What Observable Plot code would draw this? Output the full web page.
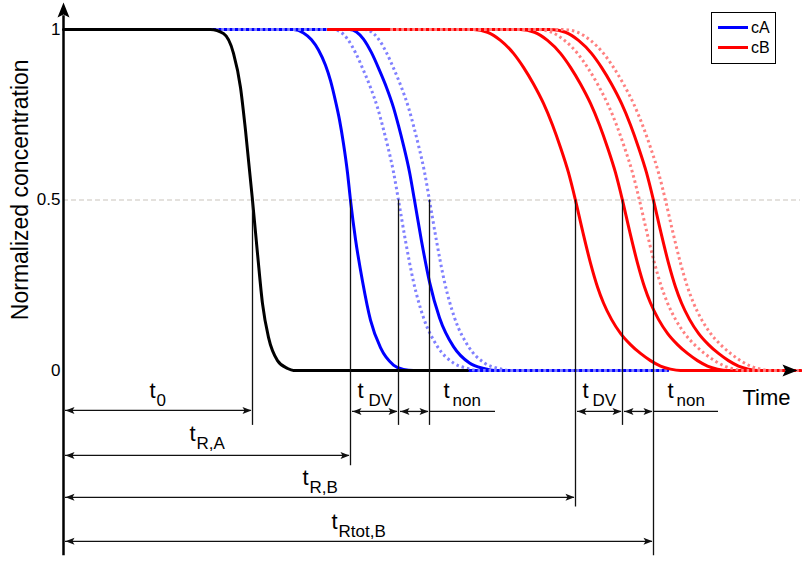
<!DOCTYPE html>
<html><head><meta charset="utf-8">
<script src="https://cdn.jsdelivr.net/npm/d3@7"></script>
<script src="https://cdn.jsdelivr.net/npm/@observablehq/plot@0.6"></script>
<style>
html,body{margin:0;padding:0;background:#fff;}
#wrap{position:relative;width:802px;height:561px;font-family:"Liberation Sans",Arial,sans-serif;}
#wrap svg g[aria-label*="axis"], #wrap svg g[aria-label*="axis"] text{font-size:17px !important;font-family:"Liberation Sans",Arial,sans-serif !important;fill:#000;}
#legend{position:absolute;left:711px;top:12px;width:63px;height:50px;border:1.5px solid #000;background:#fff;}
.row{position:absolute;left:6px;height:20px;display:flex;align-items:center;font-size:16px;color:#000;}
.sw{width:30px;height:3px;margin-right:3px;}
</style></head><body>
<div id="wrap"></div>
<script>
// ---- curve data (time in arbitrary units, normalized concentration) ----
const blackT = [0, 147, 160, 170, 177, 182, 189, 194, 199, 205, 214, 224, 230, 404];
const blackC = [1, 1, 0.988, 0.93, 0.83, 0.704, 0.499, 0.343, 0.196, 0.097, 0.029, 0.006, 0, 0];

const blueSolid1T = [147, 230, 240, 248, 255, 262, 267, 272, 276, 280, 284, 287, 292, 299, 307, 317, 330, 340, 350, 604];
const blueSolid1C = [1, 1, 0.99, 0.97, 0.94, 0.895, 0.85, 0.79, 0.735, 0.665, 0.58, 0.499, 0.385, 0.262, 0.148, 0.067, 0.016, 0.003, 0, 0];
const blueSolid2T = [147, 286, 293, 300, 308, 316, 323, 330, 335, 340, 346, 351, 358, 366, 376, 390, 406, 420, 431, 604];
const blueSolid2C = [1, 1, 0.993, 0.972, 0.932, 0.88, 0.83, 0.771, 0.718, 0.66, 0.582, 0.499, 0.38, 0.26, 0.155, 0.07, 0.022, 0.006, 0, 0];
const blueDotted1T = [147, 270, 277, 284, 292, 300, 307, 314, 319, 324, 330, 335, 342, 350, 360, 374, 390, 404, 415, 604];
const blueDotted1C = [1, 1, 0.993, 0.972, 0.932, 0.88, 0.83, 0.771, 0.718, 0.66, 0.582, 0.499, 0.38, 0.26, 0.155, 0.07, 0.022, 0.006, 0, 0];
const blueDotted2T = [147, 301, 308, 315, 323, 331, 338, 345, 350, 355, 361, 366, 373, 381, 391, 405, 421, 435, 446, 604];
const blueDotted2C = [1, 1, 0.993, 0.972, 0.932, 0.88, 0.83, 0.771, 0.718, 0.66, 0.582, 0.499, 0.38, 0.26, 0.155, 0.07, 0.022, 0.006, 0, 0];

const redSolid1T = [265, 410, 424, 437, 450, 460, 470, 480, 489, 497, 505, 512, 519, 527, 534, 540, 548, 557, 567, 577, 587, 597, 607, 617, 737];
const redSolid1C = [1, 1, 0.992, 0.968, 0.93, 0.889, 0.84, 0.783, 0.72, 0.654, 0.58, 0.499, 0.41, 0.315, 0.245, 0.198, 0.15, 0.109, 0.076, 0.05, 0.029, 0.013, 0.004, 0, 0];
const redSolid2T = [265, 457, 471, 484, 497, 507, 517, 527, 536, 544, 552, 559, 566, 574, 581, 587, 595, 604, 614, 624, 634, 644, 654, 664, 737];
const redSolid2C = [1, 1, 0.992, 0.968, 0.93, 0.889, 0.84, 0.783, 0.72, 0.654, 0.58, 0.499, 0.41, 0.315, 0.245, 0.198, 0.15, 0.109, 0.076, 0.05, 0.029, 0.013, 0.004, 0, 0];
const redSolid3T = [265, 488, 502, 515, 528, 538, 548, 558, 567, 575, 583, 590, 597, 605, 612, 618, 626, 635, 645, 655, 665, 675, 685, 695, 737];
const redSolid3C = [1, 1, 0.992, 0.968, 0.93, 0.889, 0.84, 0.783, 0.72, 0.654, 0.58, 0.499, 0.41, 0.315, 0.245, 0.198, 0.15, 0.109, 0.076, 0.05, 0.029, 0.013, 0.004, 0, 0];
const redDotted1T = [327, 474, 488, 501, 514, 524, 534, 544, 553, 561, 569, 576, 583, 591, 598, 604, 612, 621, 631, 641, 651, 661, 671, 681, 737];
const redDotted1C = [1, 1, 0.992, 0.968, 0.93, 0.889, 0.84, 0.783, 0.72, 0.654, 0.58, 0.499, 0.41, 0.315, 0.245, 0.198, 0.15, 0.109, 0.076, 0.05, 0.029, 0.013, 0.004, 0, 0];
const redDotted2T = [327, 500, 514, 527, 540, 550, 560, 570, 579, 587, 595, 602, 609, 617, 624, 630, 638, 647, 657, 667, 677, 687, 697, 707, 737];
const redDotted2C = [1, 1, 0.992, 0.968, 0.93, 0.889, 0.84, 0.783, 0.72, 0.654, 0.58, 0.499, 0.41, 0.315, 0.245, 0.198, 0.15, 0.109, 0.076, 0.05, 0.029, 0.013, 0.004, 0, 0];

// ---- annotation data ----
const markT      = [189, 287, 335, 366, 512, 559, 590];        // times at c = 0.5
const markBottom = [-0.161, -0.279, -0.161, -0.161, -0.40, -0.161, -0.543];
const arrowFrom  = [2, 2, 2, 2, 289, 337, 514, 561];
const arrowTo    = [188, 286, 511, 589, 334, 365, 558, 589];
const arrowRow   = [-0.117, -0.249, -0.372, -0.501, -0.12, -0.12, -0.12, -0.12];
const extFrom    = [366, 590];
const extTo      = [432, 655];
const labelMain  = ["t", "t", "t", "t", "t", "t", "t", "t"];
const labelSub   = ["0", "R,A", "R,B", "Rtot,B", "DV", "non", "DV", "non"];
const labelX     = [86, 126, 239, 268, 294, 380, 519, 604];
const labelSubX  = [93, 133, 246, 275, 305, 389, 529, 613];
const labelY     = [-0.082, -0.208, -0.337, -0.466, -0.082, -0.082, -0.082, -0.082];
const labelSubY  = [-0.103, -0.229, -0.358, -0.487, -0.103, -0.103, -0.103, -0.103];
const yTicks = [0, 0.5, 1];
const legendNames = ["cA", "cB"];
const xMax = 737, yAxisBottom = -0.543, yAxisTip = 1.079, xAxisTip = 734;

const rows = (T, C, id) => T.map((t, i) => ({t, c: C[i], id}));
const blueSolid = [...rows(blueSolid1T, blueSolid1C, "b1"), ...rows(blueSolid2T, blueSolid2C, "b2")];
const blueDotted = [...rows(blueDotted1T, blueDotted1C, "bd1"), ...rows(blueDotted2T, blueDotted2C, "bd2")];
const redSolid = [...rows(redSolid1T, redSolid1C, "r1"), ...rows(redSolid2T, redSolid2C, "r2"), ...rows(redSolid3T, redSolid3C, "r3")];
const redDotted = [...rows(redDotted1T, redDotted1C, "rd1"), ...rows(redDotted2T, redDotted2C, "rd2")];
const black = rows(blackT, blackC, "k");

const marks = markT.map((t, i) => ({t, b: markBottom[i]}));
const arrows = arrowFrom.map((a, i) => ({a, b: arrowTo[i], y: arrowRow[i]}));
const exts = extFrom.map((a, i) => ({a, b: extTo[i], y: arrowRow[4]}));
const labels = labelMain.map((m, i) => ({m, s: labelSub[i], x: labelX[i], sx: labelSubX[i], y: labelY[i], sy: labelSubY[i]}));

// arrowhead glyphs (symbol objects)
const headUp = {draw(ctx) { ctx.moveTo(0, 0); ctx.lineTo(6, 15); ctx.lineTo(0, 12); ctx.lineTo(-6, 15); ctx.closePath(); }};
const headRight = {draw(ctx) { ctx.moveTo(0, 0); ctx.lineTo(-15, -6); ctx.lineTo(-12, 0); ctx.lineTo(-15, 6); ctx.closePath(); }};
const smallR = {draw(ctx) { ctx.moveTo(0, 0); ctx.lineTo(-9, -3.5); ctx.lineTo(-7, 0); ctx.lineTo(-9, 3.5); ctx.closePath(); }};
const smallL = {draw(ctx) { ctx.moveTo(0, 0); ctx.lineTo(9, -3.5); ctx.lineTo(7, 0); ctx.lineTo(9, 3.5); ctx.closePath(); }};

const FONT = "Liberation Sans, Arial, sans-serif";
const lineOpts = {x: "t", y: "c", z: "id", curve: "monotone-x", strokeWidth: 3};
const dotted = {strokeDasharray: "2.5,3", strokeLinecap: "butt"};

const chart = Plot.plot({
  width: 802, height: 561,
  marginLeft: 63, marginRight: 2, marginTop: 29, marginBottom: 191,
  style: {fontSize: "17px", fontFamily: FONT, background: "#fff", color: "#000", overflow: "visible"},
  x: {domain: [0, xMax], axis: null},
  y: {domain: [0, 1], ticks: yTicks, tickSize: 0, tickPadding: 3, tickFormat: d => String(d), label: null},
  marks: [
    Plot.ruleY([0.5], {x1: 0, x2: xMax, stroke: "#c9c3bb", strokeWidth: 1, strokeDasharray: "5,3"}),
    Plot.line(blueSolid, {...lineOpts, stroke: "#0000ff"}),
    Plot.line(blueDotted, {...lineOpts, ...dotted, stroke: "#8080ff"}),
    Plot.line(redSolid, {...lineOpts, stroke: "#ff0000"}),
    Plot.line(redDotted, {...lineOpts, ...dotted, stroke: "#ff8080"}),
    Plot.line(black, {...lineOpts, stroke: "#000"}),
    // vertical markers
    Plot.ruleX(marks, {x: "t", y1: 0.5, y2: "b", stroke: "#111", strokeWidth: 1.3}),
    // axes
    Plot.ruleX([0], {y1: yAxisBottom, y2: 1.04, stroke: "#000", strokeWidth: 2.5}),
    Plot.dot([0], {x: d => d, y: () => yAxisTip, symbol: headUp, fill: "#000", stroke: "none"}),
    Plot.dot([0], {x: () => xAxisTip, y: d => d, symbol: headRight, fill: "#000", stroke: "none"}),
    // dimension arrows
    Plot.ruleY(arrows, {x1: "a", x2: "b", y: "y", stroke: "#111", strokeWidth: 1.3}),
    Plot.ruleY(exts, {x1: "a", x2: "b", y: "y", stroke: "#111", strokeWidth: 1.3}),
    Plot.dot(arrows, {x: "a", y: "y", symbol: smallL, fill: "#111", stroke: "none"}),
    Plot.dot(arrows, {x: "b", y: "y", symbol: smallR, fill: "#111", stroke: "none"}),
    // labels
    Plot.text(labels, {x: "x", y: "y", text: "m", fontSize: 22, textAnchor: "start", lineAnchor: "bottom", fontFamily: FONT, fill: "#000"}),
    Plot.text(labels, {x: "sx", y: "sy", text: "s", fontSize: 17, textAnchor: "start", lineAnchor: "bottom", fontFamily: FONT, fill: "#000"}),
    Plot.text(["Time"], {x: () => 679, y: () => -0.1, text: d => d, fontSize: 22, textAnchor: "start", lineAnchor: "bottom", fontFamily: FONT, fill: "#000"}),
    Plot.text(["Normalized concentration"], {x: () => -43, y: () => 0.53, text: d => d, rotate: -90, fontSize: 23, textAnchor: "middle", lineAnchor: "middle", fontFamily: FONT, fill: "#000"})
  ]
});

const wrap = document.getElementById("wrap");
wrap.appendChild(chart);
const legend = document.createElement("div");
legend.id = "legend";
const legendColors = ["#0000ff", "#ff0000"];
legendNames.forEach((n, i) => {
  const r = document.createElement("div");
  r.className = "row";
  r.style.top = (4.5 + i * 20) + "px";
  r.innerHTML = `<span class="sw" style="background:${legendColors[i]}"></span><span>${n}</span>`;
  legend.appendChild(r);
});
wrap.appendChild(legend);
</script>
</body></html>
